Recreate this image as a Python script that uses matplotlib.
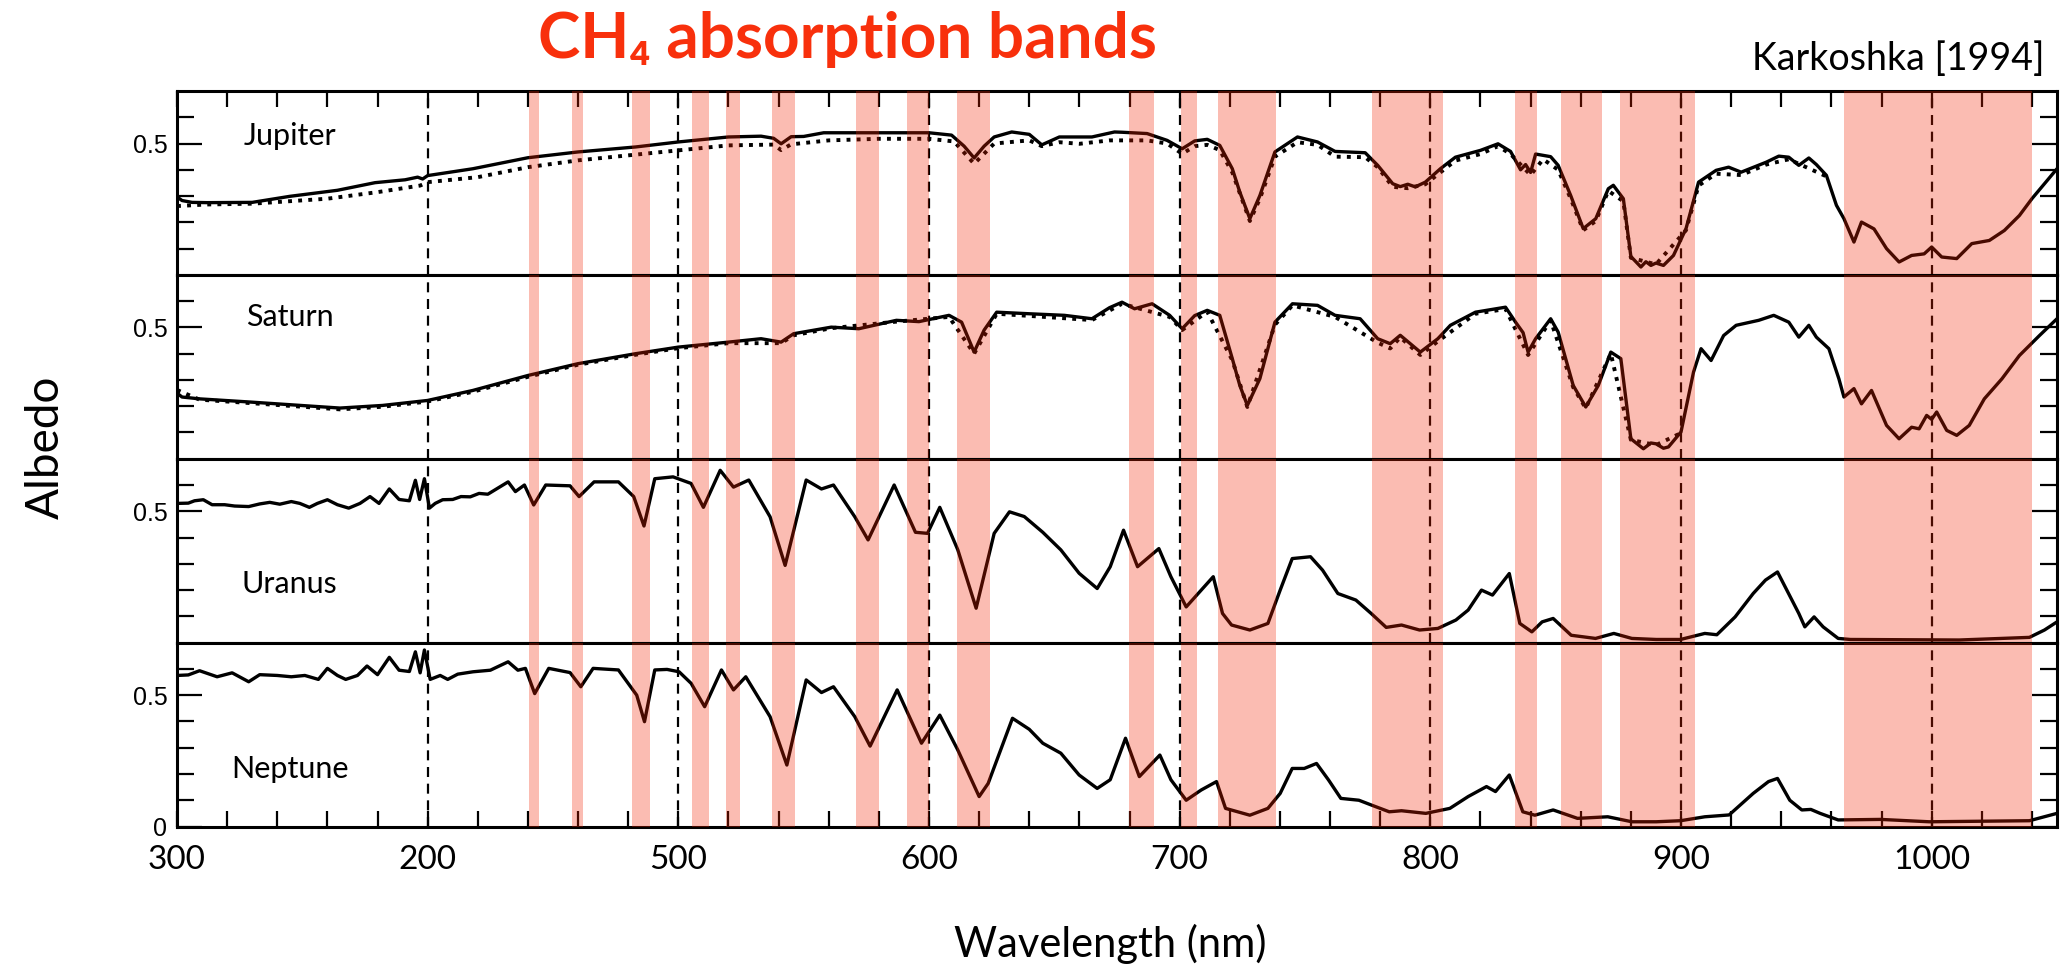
import matplotlib
matplotlib.use("Agg")
import matplotlib.pyplot as plt
from matplotlib.ticker import FixedLocator, MultipleLocator, NullFormatter

# ---------------- data ----------------
xtick_values = [300, 400, 500, 600, 700, 800, 900, 1000]
xtick_labels = ["300", "200", "500", "600", "700", "800", "900", "1000"]
guide_lines = [400, 500, 600, 700, 800, 900, 1000]

band_starts = [440.3, 457.7, 481.7, 505.4, 519.2, 537.3, 570.8, 591.2, 611.1,
               679.6, 700.6, 715.1, 776.6, 833.9, 852.1, 875.8, 965.1]
band_ends = [444.4, 462.1, 488.7, 512.4, 524.5, 546.5, 580.2, 600.0, 624.4,
             689.8, 707.1, 738.5, 805.2, 842.4, 868.3, 905.5, 1039.9]

jup_wl = [300, 302, 306, 312, 330, 345, 364, 379, 391, 396, 398, 400, 418, 440, 460,
          483, 500, 520, 533, 538, 541, 545, 550, 558, 580, 600, 609, 614, 618, 622,
          626, 633, 640, 645, 652, 665, 674, 677, 687, 695, 701, 706, 711, 716, 721,
          724, 728, 732, 738, 747, 755, 762, 774, 779, 785, 788, 791, 794, 798, 804,
          810, 820, 827, 832, 836, 838, 840, 842, 845, 848, 851, 856, 861, 866, 871,
          873, 877, 880, 884, 886, 888, 890, 893, 897, 902, 907, 914, 919, 924, 929,
          934, 939, 943, 947, 951, 954, 958, 962, 965, 969, 972, 977, 982, 987, 992,
          997, 1000, 1004, 1010, 1016, 1023, 1029, 1035, 1040, 1050]
jup_alb = [0.297, 0.283, 0.276, 0.275, 0.276, 0.299, 0.322, 0.351, 0.362, 0.372, 0.365,
           0.378, 0.404, 0.446, 0.468, 0.487, 0.506, 0.525, 0.528, 0.520, 0.499, 0.526,
           0.527, 0.541, 0.541, 0.541, 0.532, 0.490, 0.445, 0.490, 0.525, 0.544, 0.535,
           0.495, 0.525, 0.525, 0.544, 0.543, 0.538, 0.512, 0.480, 0.510, 0.516, 0.493,
           0.404, 0.315, 0.214, 0.302, 0.468, 0.525, 0.506, 0.470, 0.465, 0.417, 0.347,
           0.336, 0.345, 0.335, 0.353, 0.404, 0.448, 0.474, 0.499, 0.470, 0.400, 0.420,
           0.390, 0.460, 0.455, 0.450, 0.417, 0.302, 0.176, 0.214, 0.328, 0.341, 0.290,
           0.070, 0.030, 0.050, 0.036, 0.045, 0.036, 0.074, 0.176, 0.353, 0.398, 0.410,
           0.391, 0.410, 0.429, 0.452, 0.448, 0.417, 0.445, 0.420, 0.379, 0.265, 0.214,
           0.125, 0.201, 0.175, 0.100, 0.049, 0.074, 0.080, 0.106, 0.068, 0.062, 0.119,
           0.131, 0.169, 0.226, 0.290, 0.404]

jup2_wl = [300, 312, 330, 360, 380, 397, 400, 420, 440, 460, 480, 500, 520, 538, 541,
           545, 560, 580, 600, 610, 618, 626, 640, 645, 652, 660, 672, 687, 695, 701,
           706, 711, 716, 721, 728, 732, 738, 747, 755, 762, 774, 779, 785, 791, 798,
           804, 810, 820, 827, 832, 840, 845, 851, 856, 861, 866, 871, 877, 880, 890,
           902, 907, 914, 924, 934, 943, 958]
jup2_alb = [0.262, 0.268, 0.271, 0.290, 0.315, 0.340, 0.353, 0.372, 0.410, 0.436, 0.455,
            0.474, 0.493, 0.496, 0.475, 0.497, 0.512, 0.518, 0.518, 0.508, 0.423, 0.500,
            0.512, 0.490, 0.505, 0.499, 0.512, 0.512, 0.500, 0.461, 0.490, 0.495, 0.475,
            0.390, 0.205, 0.290, 0.450, 0.505, 0.495, 0.450, 0.448, 0.410, 0.335, 0.330,
            0.345, 0.390, 0.435, 0.460, 0.490, 0.460, 0.380, 0.440, 0.400, 0.290, 0.170,
            0.205, 0.320, 0.280, 0.065, 0.040, 0.170, 0.340, 0.385, 0.380, 0.420, 0.440,
            0.375]

sat_wl = [300, 302, 309, 329, 365, 382, 400, 418, 440, 460, 483, 500, 520, 533, 541,
          546, 561, 572, 587, 596, 608, 613, 618, 622, 627, 640, 654, 665, 672, 677,
          682, 689, 696, 701, 706, 711, 716, 721, 724, 727, 732, 738, 745, 755, 762,
          772, 779, 784, 788, 796, 803, 808, 818, 830, 834, 837, 839, 842, 848, 851,
          857, 862, 867, 872, 876, 880, 885, 888, 890, 893, 895, 900, 905, 908, 912,
          917, 922, 931, 937, 943, 947, 951, 954, 959, 963, 965, 969, 972, 976, 982,
          987, 992, 995, 998, 1000, 1002, 1006, 1010, 1015, 1021, 1028, 1035, 1043, 1050]
sat_alb = [0.250, 0.235, 0.228, 0.216, 0.193, 0.203, 0.222, 0.260, 0.317, 0.362, 0.400,
           0.425, 0.444, 0.457, 0.444, 0.476, 0.501, 0.495, 0.527, 0.522, 0.546, 0.520,
           0.406, 0.490, 0.558, 0.552, 0.546, 0.533, 0.575, 0.596, 0.571, 0.590, 0.546,
           0.495, 0.545, 0.565, 0.546, 0.381, 0.279, 0.203, 0.305, 0.520, 0.590, 0.584,
           0.546, 0.533, 0.457, 0.438, 0.470, 0.406, 0.457, 0.508, 0.558, 0.577, 0.520,
           0.480, 0.406, 0.457, 0.533, 0.482, 0.279, 0.197, 0.279, 0.406, 0.381, 0.076,
           0.038, 0.060, 0.057, 0.040, 0.045, 0.102, 0.330, 0.419, 0.374, 0.469, 0.508,
           0.527, 0.546, 0.520, 0.463, 0.508, 0.463, 0.419, 0.304, 0.235, 0.267, 0.209,
           0.260, 0.127, 0.076, 0.120, 0.114, 0.165, 0.150, 0.178, 0.108, 0.089, 0.127,
           0.228, 0.304, 0.393, 0.469, 0.533]

sat2_wl = [300, 309, 329, 365, 382, 400, 418, 440, 460, 483, 500, 520, 541, 546, 561,
           587, 608, 618, 627, 665, 677, 696, 701, 711, 721, 727, 738, 745, 762, 779,
           784, 788, 796, 803, 818, 830, 839, 848, 857, 862, 872, 880, 890, 900]
sat2_alb = [0.262, 0.225, 0.212, 0.188, 0.198, 0.218, 0.255, 0.312, 0.358, 0.396, 0.421,
            0.440, 0.440, 0.470, 0.497, 0.522, 0.540, 0.400, 0.552, 0.528, 0.590, 0.540,
            0.490, 0.560, 0.375, 0.197, 0.510, 0.584, 0.540, 0.442, 0.420, 0.462, 0.395,
            0.447, 0.552, 0.570, 0.395, 0.527, 0.272, 0.192, 0.400, 0.072, 0.052, 0.098]

ura_wl = [300, 304.5, 307, 310.5, 314, 319, 323, 328.6, 333, 337, 341, 345.6, 349,
          352.8, 356, 360, 364, 368.5, 373, 377, 380.6, 384.7, 388.6, 392.7, 395.1,
          396.8, 398.7, 400.7, 403, 406, 410, 413.3, 417, 420.5, 424, 427.8, 432.1,
          435, 438.6, 442.3, 447.1, 456.8, 460.4, 466.4, 476.1, 482.2, 486.3, 490.6,
          497.9, 505.1, 510, 516.7, 522, 528.1, 536.6, 542.6, 551, 557.1, 561.9,
          570.4, 575.7, 586.1, 594.6, 599.4, 604.3, 611.5, 618.8, 626, 632.1, 638,
          645.4, 652.6, 659.9, 667.1, 672.3, 677.6, 683.2, 691.7, 696.5, 702.6, 707.4,
          713.4, 717.1, 720.7, 728, 735.2, 740.1, 744.9, 752.2, 757, 763.1, 770.3,
          776.4, 782.4, 788.5, 795.7, 803, 810.2, 815.1, 820.4, 824.8, 831.5, 835.7,
          840.5, 844.6, 849, 856.2, 865.9, 873.2, 880.4, 890.1, 899.8, 909.5, 914.3,
          921.6, 928.8, 933.7, 938.5, 942.2, 947, 949.4, 953.1, 956.7, 962.7, 967.6,
          1011, 1039, 1045, 1050]
ura_alb = [0.530, 0.531, 0.540, 0.544, 0.525, 0.525, 0.520, 0.518, 0.528, 0.534, 0.527,
           0.537, 0.530, 0.515, 0.530, 0.544, 0.525, 0.512, 0.530, 0.556, 0.530, 0.585,
           0.545, 0.540, 0.618, 0.545, 0.624, 0.512, 0.530, 0.544, 0.545, 0.556, 0.555,
           0.568, 0.565, 0.587, 0.612, 0.575, 0.600, 0.524, 0.600, 0.597, 0.556, 0.612,
           0.612, 0.556, 0.444, 0.624, 0.631, 0.606, 0.515, 0.656, 0.592, 0.619, 0.479,
           0.294, 0.619, 0.585, 0.600, 0.479, 0.391, 0.600, 0.420, 0.416, 0.515, 0.353,
           0.131, 0.416, 0.498, 0.480, 0.420, 0.353, 0.264, 0.206, 0.289, 0.428, 0.289,
           0.358, 0.251, 0.136, 0.187, 0.251, 0.111, 0.067, 0.048, 0.073, 0.200, 0.320,
           0.327, 0.276, 0.187, 0.162, 0.111, 0.058, 0.067, 0.048, 0.054, 0.086, 0.124,
           0.200, 0.181, 0.263, 0.073, 0.041, 0.079, 0.092, 0.028, 0.016, 0.035, 0.016,
           0.012, 0.012, 0.035, 0.030, 0.098, 0.187, 0.238, 0.269, 0.200, 0.111, 0.060,
           0.098, 0.060, 0.016, 0.012, 0.010, 0.020, 0.048, 0.079]

nep_wl = [300, 304.5, 309, 316, 322, 328.6, 333, 340, 345.6, 351, 356.4, 360, 364,
          367.3, 372, 375.8, 380, 384.7, 388.6, 392.7, 395.1, 397, 398.7, 401, 405,
          408, 412, 418.1, 425, 432.1, 436, 439, 442.7, 448.3, 456.8, 461.1, 466,
          476.1, 483.4, 486.5, 490.6, 495.5, 500.3, 505.1, 510.5, 517.2, 522, 526.9,
          536.6, 543.3, 551, 557.1, 561.9, 570.4, 576.5, 587.3, 597, 604.3, 611.5, 620,
          623.6, 633.3, 640, 645.4, 652.6, 659.9, 667.1, 672.3, 678.4, 683.9, 692.1,
          696.5, 702.6, 708.6, 714.7, 718.3, 728, 735.2, 740.1, 744.9, 749.7, 754.6,
          759.4, 764.3, 771.5, 776.4, 783.6, 788.5, 798.2, 807.8, 815.1, 822.4, 826,
          831.5, 836.9, 841.7, 849, 858.7, 870.8, 880.4, 890.1, 899.8, 909.5, 919.2,
          928.8, 934.9, 938.5, 943.4, 948.2, 951.8, 955.5, 962.7, 979.6, 999, 1039, 1050]
nep_alb = [0.575, 0.577, 0.593, 0.570, 0.585, 0.551, 0.578, 0.575, 0.570, 0.575, 0.560,
           0.602, 0.575, 0.560, 0.575, 0.611, 0.578, 0.644, 0.595, 0.590, 0.665, 0.585,
           0.672, 0.560, 0.575, 0.560, 0.580, 0.589, 0.595, 0.627, 0.595, 0.602, 0.506,
           0.602, 0.586, 0.532, 0.602, 0.596, 0.500, 0.399, 0.596, 0.598, 0.589, 0.545,
           0.456, 0.596, 0.520, 0.570, 0.418, 0.234, 0.558, 0.510, 0.532, 0.418, 0.306,
           0.520, 0.317, 0.424, 0.291, 0.114, 0.164, 0.412, 0.370, 0.317, 0.279, 0.196,
           0.145, 0.178, 0.336, 0.190, 0.272, 0.178, 0.100, 0.139, 0.171, 0.069, 0.043,
           0.069, 0.126, 0.221, 0.221, 0.240, 0.177, 0.107, 0.100, 0.082, 0.056, 0.060,
           0.050, 0.069, 0.114, 0.152, 0.133, 0.196, 0.056, 0.043, 0.063, 0.031, 0.037,
           0.018, 0.018, 0.022, 0.037, 0.044, 0.126, 0.171, 0.183, 0.100, 0.063, 0.065,
           0.050, 0.025, 0.027, 0.018, 0.022, 0.050]

planet_names = ["Jupiter", "Saturn", "Uranus", "Neptune"]
label_wl = [345, 345, 345, 345]
label_alb = [0.53, 0.54, 0.225, 0.22]

# ---------------- figure ----------------
W, H = 2061, 968
fig = plt.figure(figsize=(W / 100, H / 100), dpi=100)
left_px, right_px = 177, 2057
top_px, bot_px = 91, 826.5
ph = (bot_px - top_px) / 4

TXT = ["Lato", "DejaVu Sans"]
band_color = "#f22300"

solid = [(jup_wl, jup_alb), (sat_wl, sat_alb), (ura_wl, ura_alb), (nep_wl, nep_alb)]
second = [(jup2_wl, jup2_alb), (sat2_wl, sat2_alb), None, None]

axes = []
for i in range(4):
    top_i = top_px + i * ph
    ax = fig.add_axes([left_px / W, 1 - (top_i + ph) / H, (right_px - left_px) / W, ph / H])
    axes.append(ax)
    ax.set_xlim(300, 1050)
    ax.set_ylim(0, 0.7)
    for s in ax.spines.values():
        s.set_linewidth(2.2)
    for b0, b1 in zip(band_starts, band_ends):
        ax.axvspan(b0, b1, color=band_color, alpha=0.3, lw=0, zorder=3)
    for g in guide_lines:
        ax.axvline(g, color="black", lw=1.6, linestyle=(0, (4.5, 3)), zorder=1.5)
    wl, al = solid[i]
    ax.plot(wl, al, color="black", lw=2.4, zorder=2, solid_joinstyle="round")
    if second[i] is not None:
        wl2, al2 = second[i]
        ax.plot(wl2, al2, color="black", lw=2.8, linestyle=(0, (1.0, 1.6)),
                dash_capstyle="butt", zorder=2)
    ax.text(label_wl[i], label_alb[i], planet_names[i], fontsize=22, family=TXT,
            fontweight="normal", ha="center", va="center", zorder=4, color="black")
    # y ticks
    if i == 3:
        ax.yaxis.set_major_locator(FixedLocator([0, 0.5]))
        ax.set_yticklabels(["0", "0.5"])
    else:
        ax.yaxis.set_major_locator(FixedLocator([0.5]))
        ax.set_yticklabels(["0.5"])
    ax.yaxis.set_minor_locator(FixedLocator([0.1, 0.2, 0.3, 0.4, 0.6]))
    ax.tick_params(axis="y", which="both", direction="in", left=True, right=True,
                   width=1.6, labelsize=18, pad=7)
    ax.tick_params(axis="y", which="major", length=18)
    ax.tick_params(axis="y", which="minor", length=12)
    for lab in ax.get_yticklabels():
        lab.set_family("Liberation Sans")
    # x ticks
    ax.xaxis.set_major_locator(FixedLocator(xtick_values))
    ax.xaxis.set_minor_locator(MultipleLocator(20))
    ax.tick_params(axis="x", which="both", direction="in", length=11.5, width=1.6,
                   top=(i == 0), bottom=(i == 3), labelbottom=(i == 3),
                   labeltop=False)
    if i == 3:
        ax.set_xticklabels(xtick_labels, family=TXT, fontsize=24)
        ax.tick_params(axis="x", which="major", pad=13)
    else:
        ax.xaxis.set_major_formatter(NullFormatter())

fig.text(46 / W, 1 - 447 / H, "Albedo", rotation=90, ha="center", va="center",
         fontsize=33, family=TXT, color="black")
fig.text(1110 / W, 1 - 944 / H, "Wavelength (nm)", ha="center", va="center",
         fontsize=30, family=TXT, color="black")
fig.text(847 / W, 1 - 40 / H, "CH\u2084 absorption bands", ha="center", va="center",
         fontsize=46, family=TXT, fontweight="bold", color="#f8300c")
fig.text(2044 / W, 1 - 59 / H, "Karkoshka [1994]", ha="right", va="center",
         fontsize=27, family=TXT, color="black")

fig.savefig("out.png", dpi=100)
